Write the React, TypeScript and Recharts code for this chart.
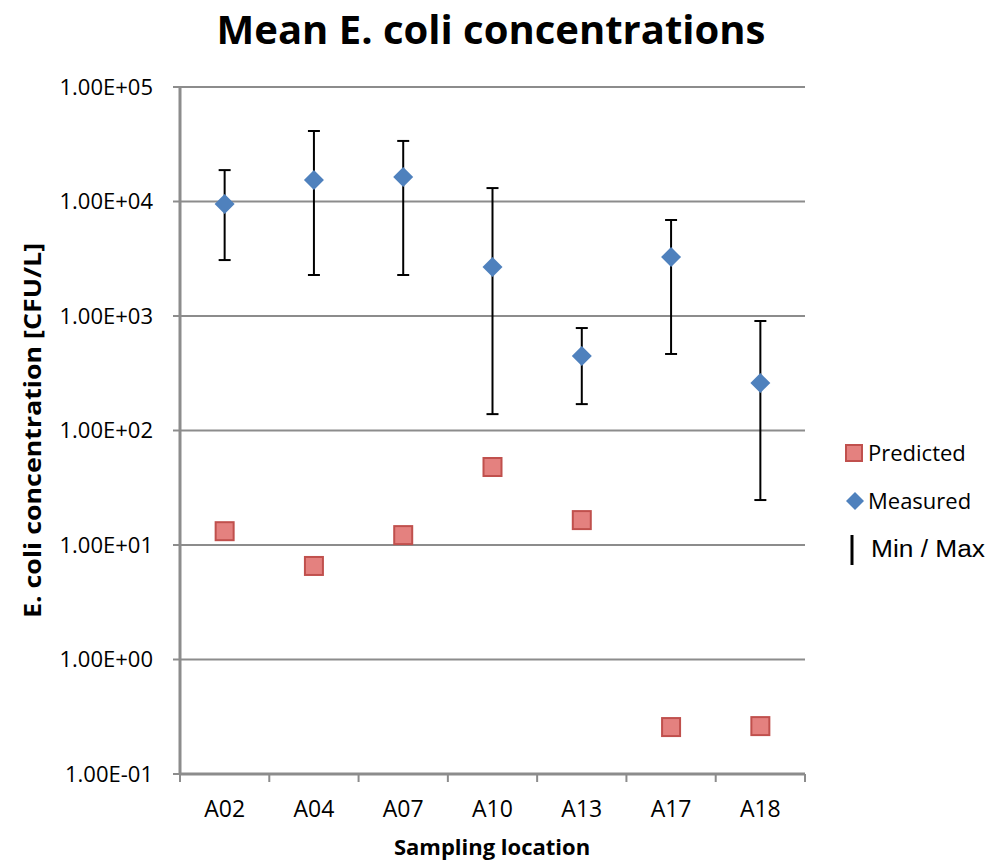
import React from 'react';
import { ComposedChart, Scatter, ErrorBar, XAxis, YAxis, CartesianGrid } from 'recharts';

const locations = ['A02', 'A04', 'A07', 'A10', 'A13', 'A17', 'A18'];
const measured = [9500, 15400, 16400, 2680, 448, 3270, 260];
const measuredMin = [3080, 2280, 2280, 139, 170, 466, 24.7];
const measuredMax = [18800, 41300, 33800, 13100, 785, 6890, 904];
const predicted = [13.2, 6.56, 12.2, 48, 16.5, 0.257, 0.262];
const yTicks = [0.1, 1, 10, 100, 1000, 10000, 100000];

const data = locations.map((loc, i) => ({
  loc,
  measured: measured[i],
  predicted: predicted[i],
  range: [measured[i] - measuredMin[i], measuredMax[i] - measured[i]],
}));

const W = 990;
const H = 863;
const PLOT_LEFT = 180;
const PLOT_RIGHT = 805;
const PLOT_TOP = 87;
const PLOT_BOTTOM = 774;
const GRID = '#8c8c8c';
const FONT = "'Open Sans', sans-serif";

const sci = (v: number) => {
  const e = Math.round(Math.log10(v));
  const m = v / Math.pow(10, e);
  const sign = e < 0 ? '-' : '+';
  return `${m.toFixed(2)}E${sign}${String(Math.abs(e)).padStart(2, '0')}`;
};

const Diamond = (props: any) => {
  const { cx, cy } = props;
  if (cx == null || cy == null) return null;
  const r = 10;
  return <polygon points={`${cx},${cy - r} ${cx + r},${cy} ${cx},${cy + r} ${cx - r},${cy}`} fill="#4f81bd" />;
};

const Square = (props: any) => {
  const { cx, cy } = props;
  if (cx == null || cy == null) return null;
  return <rect x={cx - 9} y={cy - 9} width={18} height={18} fill="#e4817f" stroke="#c0504d" strokeWidth={2} />;
};

const bandHalf = (PLOT_RIGHT - PLOT_LEFT) / locations.length / 2;

// labels sit in the middle of each category, tick marks sit between them
const LocTick = (props: any) => {
  const { x, payload, index } = props;
  return (
    <g>
      <line x1={x - bandHalf} y1={PLOT_BOTTOM} x2={x - bandHalf} y2={PLOT_BOTTOM + 8} stroke={GRID} strokeWidth={2} />
      {index === locations.length - 1 && (
        <line x1={x + bandHalf} y1={PLOT_BOTTOM} x2={x + bandHalf} y2={PLOT_BOTTOM + 8} stroke={GRID} strokeWidth={2} />
      )}
      <text x={x} y={PLOT_BOTTOM + 43} textAnchor="middle" fontFamily={FONT} fontSize={23} fill="#000">
        {payload.value}
      </text>
    </g>
  );
};

const Overlay = () => (
  <svg width={W} height={H} style={{ position: 'absolute', left: 0, top: 0, pointerEvents: 'none' }}>
    <text x={491} y={44} textAnchor="middle" fontFamily={FONT} fontWeight={700} fontSize={40} fill="#000">
      Mean E. coli concentrations
    </text>
    <text
      transform={`translate(41, ${(PLOT_TOP + PLOT_BOTTOM) / 2}) rotate(-90)`}
      textAnchor="middle"
      fontFamily={FONT}
      fontWeight={700}
      fontSize={23}
      textLength={375}
      lengthAdjust="spacingAndGlyphs"
      fill="#000"
    >
      E. coli concentration [CFU/L]
    </text>
    <text x={492} y={855} textAnchor="middle" fontFamily={FONT} fontWeight={700} fontSize={22} fill="#000">
      Sampling location
    </text>

    {/* legend */}
    <rect x={846} y={445} width={16} height={16} fill="#e4817f" stroke="#c0504d" strokeWidth={2} />
    <text x={868} y={461} fontFamily={FONT} fontSize={22} fill="#000">Predicted</text>
    <polygon points="855,492 864,501 855,510 846,501" fill="#4f81bd" />
    <text x={868} y={509} fontFamily={FONT} fontSize={22} fill="#000">Measured</text>
    <line x1={852} y1={535} x2={852} y2={565} stroke="#000" strokeWidth={3} />
    <text x={871} y={557} fontFamily="'Liberation Sans', Arial, sans-serif" fontSize={23} textLength={114} lengthAdjust="spacingAndGlyphs" fill="#000">
      Min / Max
    </text>
  </svg>
);

export default function App() {
  return (
    <div style={{ position: 'absolute', left: 0, top: 0, width: W, height: H, background: '#fff' }}>
      <ComposedChart
        width={W}
        height={H}
        data={data}
        margin={{ top: PLOT_TOP, right: W - PLOT_RIGHT, bottom: 0, left: 0 }}
      >
        <CartesianGrid vertical={false} stroke={GRID} strokeWidth={2} />
        <XAxis
          dataKey="loc"
          type="category"
          height={H - PLOT_BOTTOM}
          padding={{ left: bandHalf, right: bandHalf }}
          axisLine={{ stroke: GRID, strokeWidth: 3 }}
          tickLine={false}
          tick={<LocTick />}
          interval={0}
        />
        <YAxis
          scale="log"
          type="number"
          domain={[0.1, 100000]}
          ticks={yTicks}
          allowDataOverflow
          width={PLOT_LEFT}
          tickFormatter={sci}
          axisLine={{ stroke: GRID, strokeWidth: 3 }}
          tickLine={{ stroke: GRID, strokeWidth: 2 }}
          tickSize={7}
          tickMargin={20}
          tick={{ fontFamily: FONT, fontSize: 22, fill: '#000' }}
        />
        <Scatter dataKey="predicted" shape={<Square />} isAnimationActive={false} />
        <Scatter dataKey="measured" shape={<Diamond />} isAnimationActive={false}>
          <ErrorBar dataKey="range" direction="y" width={6} stroke="#000" strokeWidth={2} />
        </Scatter>
      </ComposedChart>
      <Overlay />
    </div>
  );
}
